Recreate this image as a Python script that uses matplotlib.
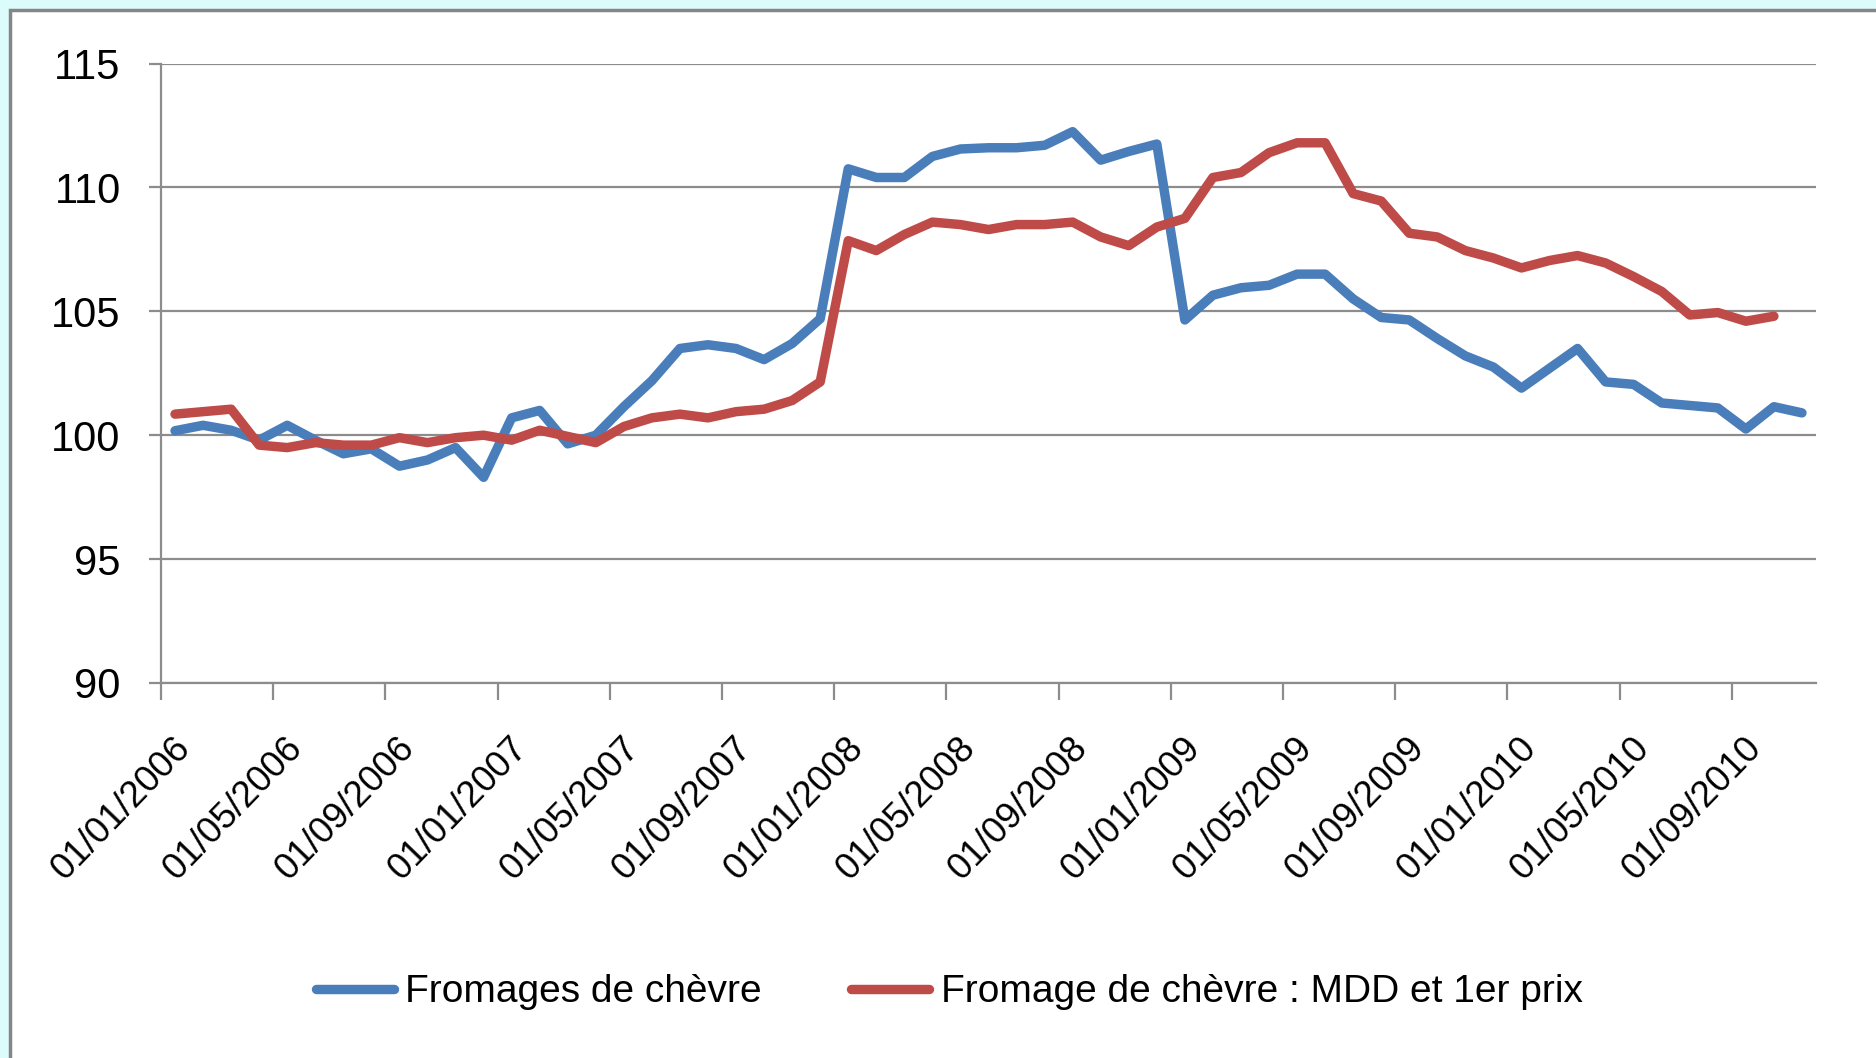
import numpy as np
import pandas as pd
import matplotlib
matplotlib.use("Agg")
import matplotlib.pyplot as plt
from matplotlib.patches import Rectangle
from matplotlib.transforms import ScaledTranslation

# monthly index, Jan 2006 - Nov 2010
months = pd.date_range("2006-01-01", periods=59, freq="MS")
month_labels = [d.strftime("01/%m/%Y") for d in months]

chevre = [100.18, 100.4, 100.2, 99.8, 100.4, 99.8, 99.25, 99.45, 98.75, 99.0,
          99.5, 98.3, 100.7, 101.0, 99.65, 100.0, 101.15, 102.2, 103.5, 103.65,
          103.5, 103.05, 103.7, 104.7, 110.75, 110.4, 110.4, 111.25, 111.55, 111.6,
          111.6, 111.7, 112.25, 111.1, 111.45, 111.75, 104.65, 105.65, 105.95, 106.05,
          106.5, 106.5, 105.5, 104.75, 104.65, 103.9, 103.2, 102.75, 101.9, 102.7,
          103.5, 102.15, 102.05, 101.3, 101.2, 101.1, 100.25, 101.15, 100.9]

chevre_mdd = [100.85, 100.95, 101.05, 99.6, 99.5, 99.7, 99.6, 99.6, 99.9, 99.7,
              99.9, 100.0, 99.8, 100.2, 99.95, 99.7, 100.35, 100.7, 100.85, 100.7,
              100.95, 101.05, 101.4, 102.15, 107.85, 107.45, 108.1, 108.6, 108.5, 108.3,
              108.5, 108.5, 108.6, 108.0, 107.65, 108.4, 108.75, 110.4, 110.6, 111.4,
              111.8, 111.8, 109.75, 109.45, 108.15, 108.0, 107.45, 107.15, 106.75, 107.05,
              107.25, 106.95, 106.4, 105.8, 104.85, 104.95, 104.6, 104.8]

series_names = ["Fromages de chèvre", "Fromage de chèvre : MDD et 1er prix"]

plt.rcParams["font.family"] = ["Liberation Sans Narrow", "Liberation Sans", "DejaVu Sans"]

fig = plt.figure(figsize=(18.76, 10.58), dpi=100, facecolor="#dcfcfc")
# white chart area with grey border
fig.patches.append(Rectangle((9.5 / 1876, -0.05), 1.1, 1.05 - 9.5 / 1058,
                             transform=fig.transFigure, facecolor="white",
                             edgecolor="#858585", linewidth=2.5, zorder=-10))

ax = fig.add_axes([161 / 1876, 1 - 683 / 1058, 1655 / 1876, (683 - 63.5) / 1058])
ax.set_facecolor("none")

x = np.arange(len(months))
ax.plot(x[:len(chevre)], chevre, color="#4a7ebb", lw=6.8, label=series_names[0],
        solid_joinstyle="round", solid_capstyle="round")
ax.plot(x[:len(chevre_mdd)], chevre_mdd, color="#be4b48", lw=6.8, label=series_names[1],
        solid_joinstyle="round", solid_capstyle="round")

ax.set_xlim(-0.5, len(months) - 0.5)
ax.set_ylim(90, 115)
ax.set_yticks(np.arange(90, 116, 5))
ax.yaxis.grid(True, color="#8c8c8c", lw=1.6)
ax.set_axisbelow(True)

for s in ["top", "right"]:
    ax.spines[s].set_visible(False)
for s in ["left", "bottom"]:
    ax.spines[s].set_color("#8c8c8c")
    ax.spines[s].set_linewidth(1.6)

ax.set_xticks(np.arange(-0.5, len(months), 4))
ax.set_xticklabels([])
ax.set_xticks(x[::4], minor=True)
ax.set_xticklabels(month_labels[::4], minor=True, rotation=46, ha="right",
                   va="center", rotation_mode="anchor", fontsize=26.5)
ax.tick_params(axis="x", which="major", length=12, width=1.6, color="#8c8c8c")
ax.tick_params(axis="x", which="minor", length=0, pad=30)
ax.tick_params(axis="y", length=9, width=1.6, color="#8c8c8c", labelsize=30, pad=20)

# nudge the rotated date labels right and down
shift = ScaledTranslation(0.10, -0.18, fig.dpi_scale_trans)
for lab in ax.get_xticklabels(minor=True):
    lab.set_transform(lab.get_transform() + shift)

fig.legend(loc="center", bbox_to_anchor=(0.506, 0.062), ncol=2, frameon=False,
           fontsize=28, handlelength=2.0, handletextpad=0.3, columnspacing=2.3)

fig.savefig("out.png", dpi=100, facecolor=fig.get_facecolor())
